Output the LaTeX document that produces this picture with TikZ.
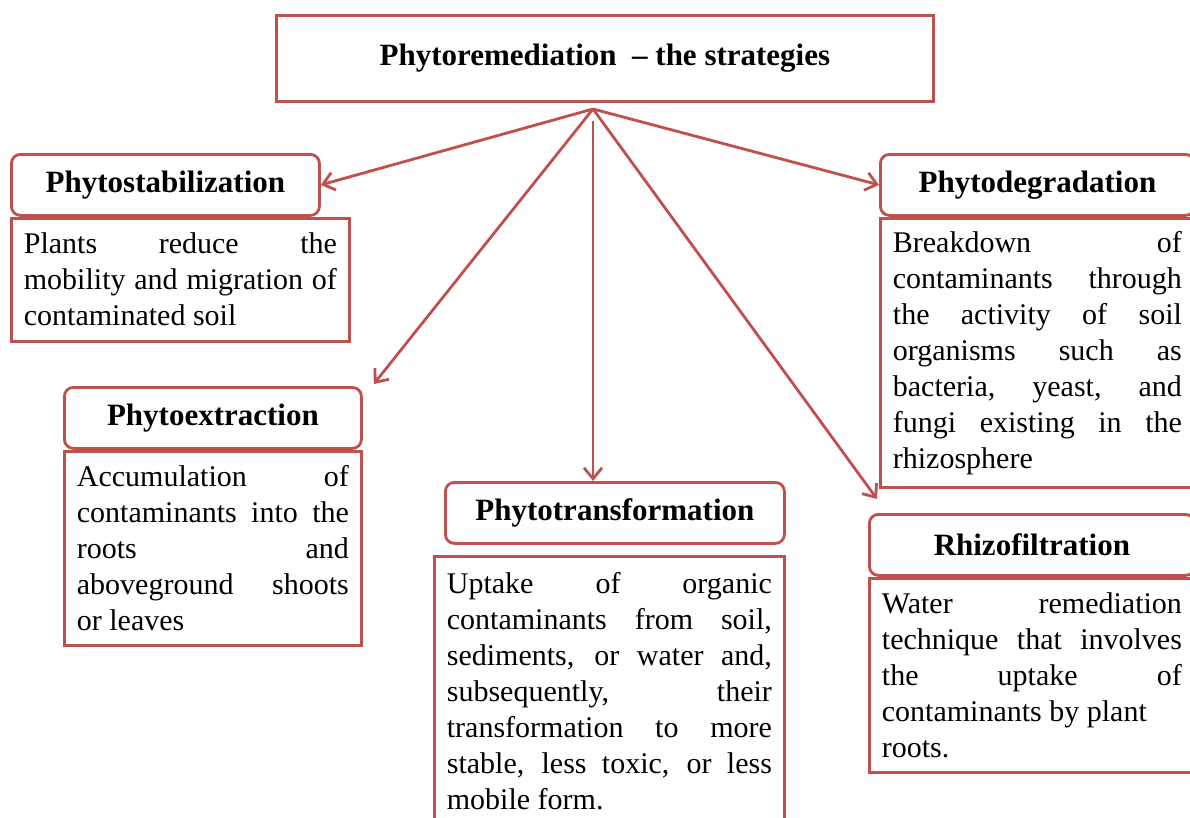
\documentclass[tikz,border=0pt]{standalone}
\usepackage{fontspec}
\setmainfont{Liberation Serif}
\usetikzlibrary{arrows.meta, positioning}
\definecolor{boxred}{HTML}{C0504D}
\hyphenpenalty=10000
\exhyphenpenalty=10000

\begin{document}
\begin{tikzpicture}[x=1pt, y=-1pt,
  headbox/.style={draw=boxred, line width=2.8pt, rounded corners=9pt, fill=white, font=\fontsize{31}{36}\selectfont\bfseries, minimum height=61pt, anchor=north west, inner sep=0pt},
  bodybox/.style={draw=boxred, line width=2.8pt, font=\fontsize{30}{36}\selectfont, align=justify, inner xsep=12.5pt, inner ysep=0pt},
  arr/.style={draw=boxred, line width=2.8pt, -{Straight Barb[length=11pt,width=18pt]}}]
  \clip (0,0) rectangle (1190,817);
  \fill[white] (0,0) rectangle (1190,817);
  \node[draw=boxred, line width=2.8pt, minimum width=657pt, minimum height=86pt, inner sep=0pt, anchor=north west, font=\fontsize{31}{36}\selectfont\bfseries] (title) at (275,14) {Phytoremediation\ \ -- the strategies};
  \node[headbox, minimum width=308pt] (stabhead) at (10,153) {Phytostabilization};
  \node[headbox, minimum width=297pt] (extrhead) at (63,386) {Phytoextraction};
  \node[headbox, minimum width=339pt] (transhead) at (444,481) {Phytotransformation};
  \node[headbox, minimum width=314pt] (degrhead) at (879,153) {Phytodegradation};
  \node[headbox, minimum width=325pt] (rhizohead) at (868,513) {Rhizofiltration};
  \node[bodybox, text width=313pt, minimum height=123pt, below right=0pt and 0pt of stabhead.south west] (stabtext) {Plants reduce the\linebreak mobility and migration of\linebreak contaminated soil};
  \node[bodybox, text width=272pt, minimum height=194pt, below right=0pt and 0pt of extrhead.south west] (extrtext) {Accumulation of\linebreak contaminants into the\linebreak roots and\linebreak aboveground shoots\linebreak or leaves};
  \node[bodybox, text width=325pt, minimum height=270pt, below left=10pt and 0pt of transhead.south east] (transtext) {Uptake of organic\linebreak contaminants from soil,\linebreak sediments, or water and,\linebreak subsequently, their\linebreak transformation to more\linebreak stable, less toxic, or less\linebreak mobile form.};
  \node[bodybox, text width=289pt, minimum height=269pt, below right=0pt and 0pt of degrhead.south west] (degrtext) {Breakdown of\linebreak contaminants through\linebreak the activity of soil\linebreak organisms such as\linebreak bacteria, yeast, and\linebreak fungi existing in the\linebreak rhizosphere};
  \node[bodybox, text width=300pt, minimum height=194pt, below right=0pt and 0pt of rhizohead.south west] (rhizotext) {Water remediation\linebreak technique that involves\linebreak the uptake of\linebreak contaminants by plant\newline roots.};
  \coordinate (hub) at (593,109);
  \coordinate (hubdown) at (593,121);
  \coordinate (extrtip) at ([xshift=11pt,yshift=2pt]extrhead.north east);
  \coordinate (rhizotip) at ([xshift=9pt,yshift=14pt]rhizohead.north west);
  \draw[arr] (hub) -- (stabhead.east);
  \draw[arr] (hub) -- (extrtip);
  \draw[arr] (hubdown) -- (hubdown |- transhead.north);
  \draw[arr] (hub) -- (degrhead.west);
  \draw[arr] (hub) -- (rhizotip);
\end{tikzpicture}
\end{document}
